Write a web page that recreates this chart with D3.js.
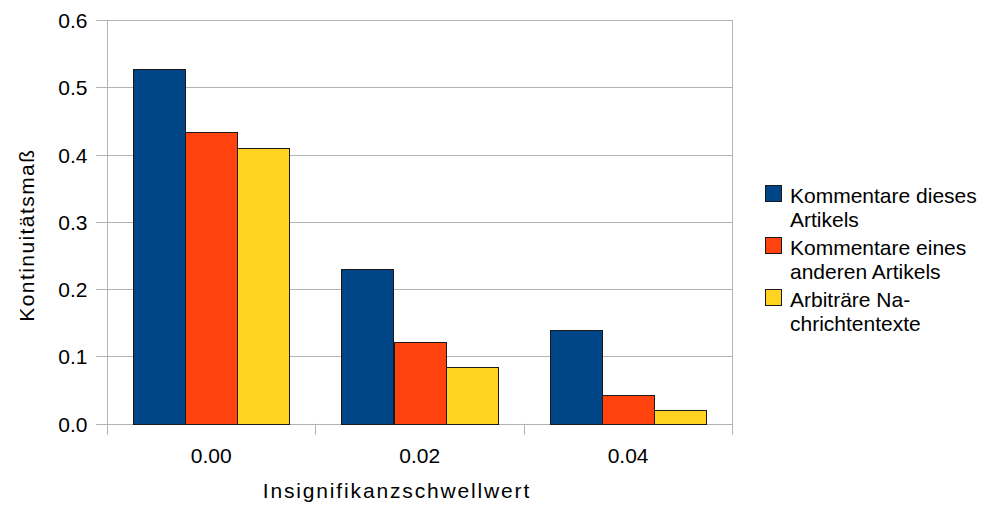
<!DOCTYPE html>
<html><head><meta charset="utf-8">
<script src="https://cdn.jsdelivr.net/npm/d3@7"></script>
<style>
body{margin:0;background:#fff;}
text{font-family:"Liberation Sans",Arial,sans-serif;fill:#000;}
</style></head>
<body>
<svg id="c" width="984" height="507"></svg>
<script>
const categories = ["0.00", "0.02", "0.04"];
const seriesNames = ["Kommentare dieses Artikels", "Kommentare eines anderen Artikels", "Arbiträre Nachrichtentexte"];
const legendLines = [["Kommentare dieses", "Artikels"], ["Kommentare eines", "anderen Artikels"], ["Arbiträre Na-", "chrichtentexte"]];
const seriesColors = ["#004586", "#ff420e", "#ffd320"];
const valuesKommentareDieses = [0.527, 0.230, 0.139];
const valuesKommentareEines = [0.433, 0.122, 0.042];
const valuesArbitraer = [0.410, 0.084, 0.020];
const yTicks = [0.0, 0.1, 0.2, 0.3, 0.4, 0.5, 0.6];
const xTitle = "Insignifikanzschwellwert";
const yTitle = "Kontinuitätsmaß";

const allValues = [valuesKommentareDieses, valuesKommentareEines, valuesArbitraer];
const svg = d3.select("#c");
const L = 107, R = 732.3, T = 20, B = 423.7;

const x0 = d3.scaleBand().domain(categories).range([L, R]).padding(0);
const x1 = d3.scaleBand().domain(d3.range(seriesNames.length)).range([0, x0.bandwidth()]).paddingInner(0).paddingOuter(0.5);
const y = d3.scaleLinear().domain([0, 0.6]).range([B, T]);

const grid = "#b3b3b3";
svg.append("g").selectAll("line").data(yTicks).join("line")
  .attr("x1", L - 11).attr("x2", R)
  .attr("y1", d => Math.round(y(d)) + 0.5).attr("y2", d => Math.round(y(d)) + 0.5)
  .attr("stroke", grid).attr("stroke-width", 1);
const xTickPos = [L, ...categories.slice(1).map(c => x0(c)), R];
svg.append("g").selectAll("line").data(xTickPos).join("line")
  .attr("x1", d => Math.round(d) + 0.5).attr("x2", d => Math.round(d) + 0.5)
  .attr("y1", (d, i) => (i === 0 || i === xTickPos.length - 1) ? T : B)
  .attr("y2", B + 11)
  .attr("stroke", grid).attr("stroke-width", 1);

const gBars = svg.append("g");
categories.forEach((c, ci) => {
  allValues.forEach((vals, si) => {
    const x = x0(c) + x1(si);
    gBars.append("rect")
      .attr("x", Math.round(x) + 0.5)
      .attr("y", Math.round(y(vals[ci])) + 0.5)
      .attr("width", Math.round(x1.bandwidth()))
      .attr("height", Math.round(y(0)) - Math.round(y(vals[ci])))
      .attr("fill", seriesColors[si])
      .attr("stroke", "#1a1a1a").attr("stroke-width", 1);
  });
});

svg.append("g").selectAll("text").data(yTicks).join("text")
  .attr("x", 87.5).attr("y", d => y(d) + 8)
  .attr("text-anchor", "end").attr("font-size", 21)
  .text(d => d.toFixed(1));

svg.append("g").selectAll("text").data(categories).join("text")
  .attr("x", d => x0(d) + x0.bandwidth() / 2).attr("y", 463.3)
  .attr("text-anchor", "middle").attr("font-size", 21)
  .text(d => d);

svg.append("text").attr("x", 262.7).attr("y", 498.3).attr("font-size", 21)
  .attr("textLength", 266.6).attr("lengthAdjust", "spacing").text(xTitle);
svg.append("text").attr("transform", "translate(34,321.7) rotate(-90)").attr("font-size", 21)
  .attr("textLength", 171.7).attr("lengthAdjust", "spacing").text(yTitle);

const lg = svg.append("g");
const entryTops = [203.3, 255.3, 307.3];
legendLines.forEach((lines, i) => {
  lg.append("rect").attr("x", 765.5).attr("y", Math.round(entryTops[i] - 18.5) + 0.5)
    .attr("width", 16).attr("height", 16)
    .attr("fill", seriesColors[i]).attr("stroke", "#1a1a1a").attr("stroke-width", 1);
  lines.forEach((t, j) => {
    lg.append("text").attr("x", 790).attr("y", entryTops[i] + j * 24)
      .attr("font-size", 21).text(t);
  });
});
</script>
</body></html>
